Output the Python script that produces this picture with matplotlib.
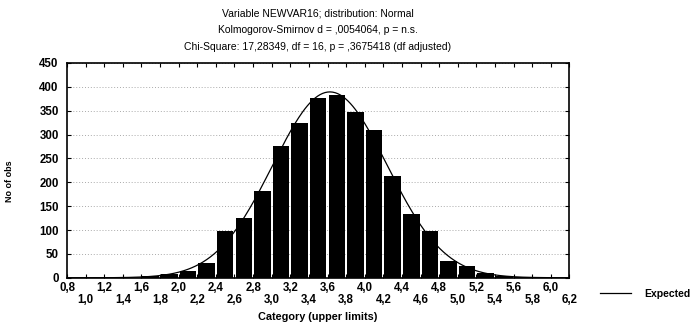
import numpy as np
import matplotlib
matplotlib.use("Agg")
import matplotlib.pyplot as plt
from matplotlib.ticker import FixedLocator

plt.rcParams['font.family'] = ['Liberation Sans', 'DejaVu Sans']

upper_limits = [1.8, 2.0, 2.2, 2.4, 2.6, 2.8, 3.0, 3.2, 3.4, 3.6, 3.8,
                4.0, 4.2, 4.4, 4.6, 4.8, 5.0, 5.2, 5.4, 5.6, 5.8]
counts = [3, 8, 15, 32, 97, 126, 181, 277, 325, 377, 382,
          348, 310, 213, 133, 97, 36, 24, 10, 3, 1]
bin_width = 0.2

title_lines = [
    "Variable NEWVAR16; distribution: Normal",
    "Kolmogorov-Smirnov d = ,0054064, p = n.s.",
    "Chi-Square: 17,28349, df = 16, p = ,3675418 (df adjusted)",
]

up = np.array(upper_limits)
cnt = np.array(counts)
mids = up - bin_width / 2

# expected normal curve fitted to the binned data
n_obs = cnt.sum()
mu = (mids * cnt).sum() / n_obs
sd = np.sqrt((cnt * (mids - mu) ** 2).sum() / n_obs)
xs = np.linspace(0.8, 6.2, 400)
expected = n_obs * bin_width * np.exp(-0.5 * ((xs - mu) / sd) ** 2) / (sd * np.sqrt(2 * np.pi))

fig = plt.figure(figsize=(6.91, 3.23), dpi=100)
ax = fig.add_axes([0.097, 0.140, 0.727, 0.665])

ax.bar(mids, cnt, width=bin_width * 0.89, color='black', edgecolor='none', zorder=2)
line, = ax.plot(xs, expected, color='black', lw=0.9, zorder=3, label='Expected')

ax.set_xlim(0.8, 6.2)
ax.set_ylim(0, 450)
ax.set_yticks(np.arange(0, 451, 50))

xt = np.round(np.arange(0.8, 6.21, 0.2), 1)
ax.xaxis.set_major_locator(FixedLocator(xt))
ax.set_xticklabels([("" if i % 2 == 0 else "\n") + f"{v:.1f}".replace('.', ',')
                    for i, v in enumerate(xt)], linespacing=1.05)

ax.yaxis.grid(True, linestyle=(0, (1, 2)), color='#aaaaaa', lw=0.7, zorder=0)
ax.set_axisbelow(True)

ax.tick_params(axis='both', direction='in', length=3, width=0.8,
               top=True, right=True, labelsize=8.3)
ax.tick_params(axis='y', pad=6)
ax.tick_params(axis='x', pad=3)
for lab in ax.get_xticklabels() + ax.get_yticklabels():
    lab.set_fontweight('bold')
for s in ax.spines.values():
    s.set_linewidth(1.2)

ax.set_ylabel("No of obs", fontsize=6.5, fontweight='bold')
ax.yaxis.set_label_coords(-0.105, 0.45)

fig.text(0.46, 1 - 317 / 323, "Category (upper limits)", ha='center', va='center',
         fontsize=7.8, fontweight='bold')

for i, t in enumerate(title_lines):
    fig.text(0.46, 1 - (13 + 17 * i) / 323, t, ha='center', va='center', fontsize=7.5)

fig.legend(handles=[line], loc='center left', bbox_to_anchor=(0.855, 0.09),
           frameon=False, handlelength=3, handletextpad=1.2,
           prop={'weight': 'bold', 'size': 7.5})

fig.savefig("out.png", dpi=100)
